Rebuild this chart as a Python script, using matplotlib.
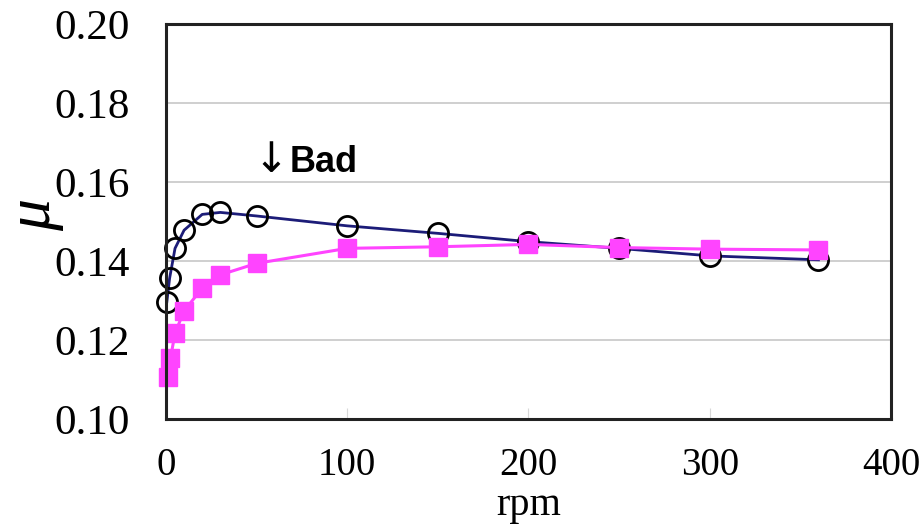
import matplotlib
matplotlib.use("Agg")
import matplotlib.pyplot as plt

# Friction coefficient vs. rotation speed
rpm_circle = [0.5, 2, 5, 10, 20, 30, 50, 100, 150, 200, 250, 300, 360]
mu_circle = [0.1297, 0.1356, 0.1432, 0.1478, 0.1518, 0.1523, 0.1514,
             0.1489, 0.1470, 0.1449, 0.1432, 0.1413, 0.1403]

rpm_square = [1, 2.5, 5, 10, 20, 30, 50, 100, 150, 200, 250, 300, 360]
mu_square = [0.1107, 0.1154, 0.1217, 0.1274, 0.1331, 0.1365, 0.1394,
             0.1432, 0.1436, 0.1442, 0.1434, 0.1430, 0.1428]

x_ticks = [0, 100, 200, 300, 400]
y_ticks = [0.10, 0.12, 0.14, 0.16, 0.18, 0.20]

serif = ["Liberation Serif", "DejaVu Serif"]
sans = ["Liberation Sans", "DejaVu Sans"]

fig = plt.figure(figsize=(9.21, 5.25), dpi=100)
ax = fig.add_axes([0.1802, 0.2019, 0.7872, 0.7524])

ax.plot(rpm_circle, mu_circle, color="#1c1c78", lw=2.0, zorder=3,
        marker="o", ms=14.5, mfc="none", mec="black", mew=2.0, clip_on=False)
ax.plot(rpm_square, mu_square, color="#ff44ff", lw=2.2, zorder=4,
        marker="s", ms=13, mfc="#ff44ff", mec="#ff44ff", clip_on=False)

ax.set_xlim(0, 400)
ax.set_ylim(0.10, 0.20)
ax.set_xticks(x_ticks)
ax.set_yticks(y_ticks)
ax.set_xticklabels([str(v) for v in x_ticks], fontfamily=serif, fontsize=28)
ax.set_yticklabels([f"{v:.2f}" for v in y_ticks], fontfamily=serif, fontsize=31)
ax.tick_params(axis="y", length=0, pad=26)
ax.tick_params(axis="x", direction="in", length=8, color="#d8d8d8", pad=20)

ax.grid(axis="y", color="#cccccc", lw=1.3)
ax.set_axisbelow(True)
for s in ax.spines.values():
    s.set_color("#222222")
    s.set_linewidth(2.2)
    s.set_zorder(5)

ax.set_xlabel("rpm", fontfamily=serif, fontsize=29, labelpad=2)
fig.text(35 / 921, 1 - 215 / 525, "\u03bc", fontfamily=serif, fontstyle="italic",
         fontsize=46, rotation=90, ha="center", va="center")

ax.text(58, 0.1625, "\u2193", fontfamily=["DejaVu Sans"], fontsize=30,
        ha="center", va="baseline")
ax.text(68, 0.1625, "Bad", fontfamily=sans, fontweight="bold", fontsize=26,
        ha="left", va="baseline")

fig.savefig("out.png", dpi=100)
